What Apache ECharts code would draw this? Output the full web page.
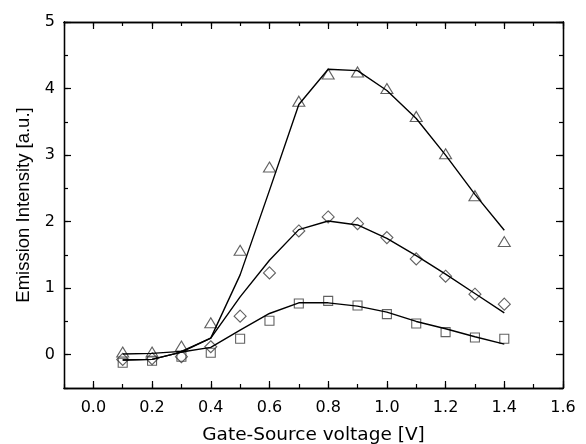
<!DOCTYPE html>
<html><head><meta charset="utf-8">
<script src="https://cdn.jsdelivr.net/npm/echarts@6/dist/echarts.min.js"></script>
<style>html,body{margin:0;padding:0;background:#fff}#c{width:586px;height:444px}</style>
</head><body><div id="c"></div>
<script>
var xVals = [0.1,0.2,0.3,0.4,0.5,0.6,0.7,0.8,0.9,1.0,1.1,1.2,1.3,1.4];
var triPts = [0.04,0.04,0.13,0.48,1.57,2.82,3.81,4.22,4.25,4.00,3.58,3.02,2.39,1.70];
var diaPts = [-0.07,-0.06,-0.03,0.12,0.58,1.23,1.86,2.07,1.97,1.76,1.44,1.18,0.91,0.76];
var sqPts  = [-0.12,-0.09,-0.03,0.03,0.24,0.51,0.77,0.81,0.74,0.61,0.47,0.34,0.26,0.24];
var triFit = [0.01,0.02,0.05,0.25,1.20,2.47,3.76,4.29,4.27,3.97,3.55,3.00,2.41,1.87];
var diaFit = [-0.08,-0.07,0.04,0.25,0.87,1.42,1.88,2.01,1.95,1.75,1.49,1.21,0.92,0.63];
var sqFit  = [-0.08,-0.07,0.04,0.11,0.37,0.62,0.78,0.78,0.73,0.64,0.50,0.39,0.27,0.16];
var xMajor = [0.0,0.2,0.4,0.6,0.8,1.0,1.2,1.4,1.6];
var yMajor = [0,1,2,3,4,5];
var xTitle = 'Gate-Source voltage [V]';
var yTitle = 'Emission Intensity [a.u.]';

function pairs(xs, ys){ return xs.map(function(x,i){ return [x, ys[i]]; }); }
var lineC = '#000';
var axLine = {show:true, onZero:false, lineStyle:{color:'#000', width:1.3}};
function xAx(pos, minor, label){
  var a = {type:'value', position:pos, min:-0.1, max:1.6, interval:0.1,
    axisLine: axLine, splitLine:{show:false},
    axisTick:{show:true, inside:true, length: minor?4:7, lineStyle:{color:'#000', width:1.2}},
    axisLabel:{show:false}};
  if(!minor){ a.axisTick.customValues = xMajor; }
  if(label){
    a.axisLabel = {show:true, customValues: xMajor, margin:12, color:'#000', fontSize:16, fontFamily:'DejaVu Sans',
      formatter:function(v){ return v.toFixed(1); }};
    a.name = xTitle; a.nameLocation='middle'; a.nameGap=38;
    a.nameTextStyle = {color:'#000', fontSize:18.5, fontFamily:'DejaVu Sans'};
  }
  return a;
}
function yAx(pos, minor, label){
  var a = {type:'value', position:pos, min:-0.5, max:5, interval:0.5,
    axisLine: axLine, splitLine:{show:false},
    axisTick:{show:true, inside:true, length: minor?4:7, lineStyle:{color:'#000', width:1.2}},
    axisLabel:{show:false}};
  if(!minor){ a.axisTick.customValues = yMajor; }
  if(label){
    a.axisLabel = {show:true, customValues: yMajor, margin:9, color:'#000', fontSize:16, fontFamily:'DejaVu Sans'};
    a.name = yTitle; a.nameLocation='middle'; a.nameGap=31; a.nameRotate=90;
    a.nameTextStyle = {color:'#000', fontSize:18.5, fontFamily:'Liberation Sans'};
  }
  return a;
}
function sc(sym, size, ys){
  return {type:'scatter', symbol:sym, symbolSize:size, data:pairs(xVals, ys), z:3,
    itemStyle:{color:'rgba(0,0,0,0)', borderColor:'#3a3a3a', borderWidth:1.1}, silent:true};
}
function ln(ys){
  return {type:'line', data:pairs(xVals, ys), showSymbol:false, symbol:'none', z:4,
    lineStyle:{color:lineC, width:1.4}, silent:true};
}
var chart = echarts.init(document.getElementById('c'), null, {renderer:'canvas'});
chart.setOption({
  animation:false,
  backgroundColor:'#fff',
  grid:{left:64, right:23, top:22, bottom:56, containLabel:false, outerBoundsMode:'none'},
  xAxis:[xAx('bottom', true, false), xAx('bottom', false, true), xAx('top', true, false), xAx('top', false, false)],
  yAxis:[yAx('left', true, false), yAx('left', false, true), yAx('right', true, false), yAx('right', false, false)],
  series:[
    sc('triangle', [12,10], triPts),
    sc('diamond', [12,12], diaPts),
    sc('rect', [9,9], sqPts),
    ln(triFit), ln(diaFit), ln(sqFit)
  ]
});
</script></body></html>
